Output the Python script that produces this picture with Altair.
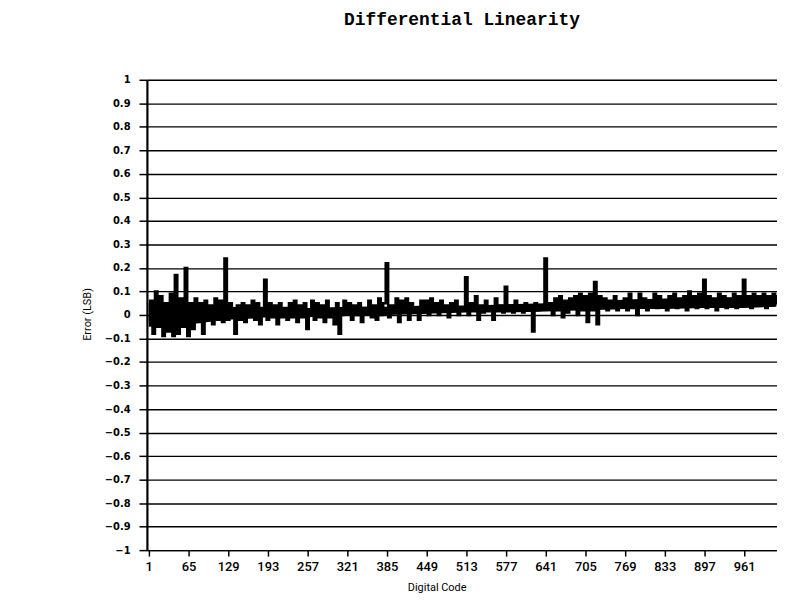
import altair as alt
import pandas as pd

title_text = "Differential Linearity"
x_title = "Digital Code"
y_title = "Error (LSB)"
x_ticks = [1, 65, 129, 193, 257, 321, 385, 449, 513, 577, 641, 705, 769, 833, 897, 961]
y_ticks = [round(-1 + 0.1 * k, 1) for k in range(21)]

# digital codes sampled every 4 codes (1, 5, 9, ... 1021)
codes = list(range(1, 1024, 4))
errors = [
    -0.02, 0.06, -0.08, 0.10, -0.05, 0.08, -0.09, 0.05, -0.07, 0.09, -0.09, 0.17, -0.08, 0.07, -0.05, 0.20,
    -0.09, 0.05, -0.06, 0.07, -0.03, 0.05, -0.08, 0.06, -0.02, 0.04, -0.04, 0.07, -0.02, 0.06, -0.03, 0.24,
    -0.02, 0.05, -0.01, -0.08, 0.04, -0.02, 0.05, -0.03, 0.04, -0.01, 0.06, -0.02, 0.05, -0.04, 0.03, 0.15,
    -0.02, 0.05, -0.01, 0.04, -0.04, 0.05, -0.01, 0.03, -0.02, 0.05, -0.01, 0.06, -0.03, 0.04, -0.01, 0.05,
    -0.06, 0.02, 0.06, -0.02, 0.05, -0.01, 0.04, -0.03, 0.06, -0.01, 0.02, -0.04, 0.05, -0.08, 0.00, 0.06,
    0.01, 0.05, -0.02, 0.04, 0.00, 0.05, -0.03, 0.03, 0.01, 0.06, -0.01, 0.04, -0.02, 0.07, 0.00, 0.05,
    0.22, -0.01, 0.04, 0.02, 0.07, -0.03, 0.06, 0.01, 0.07, -0.02, 0.05, 0.01, 0.03, -0.02, 0.06, 0.01,
    0.06, 0.00, 0.07, 0.02, 0.05, 0.00, 0.06, 0.02, 0.04, -0.01, 0.05, 0.02, 0.06, 0.00, 0.03, 0.02,
    0.16, 0.00, 0.05, 0.03, 0.08, -0.02, 0.04, 0.01, 0.06, 0.03, 0.03, -0.02, 0.07, 0.02, 0.04, 0.01,
    0.12, 0.02, 0.04, 0.01, 0.06, 0.02, 0.03, 0.01, 0.05, 0.02, 0.03, -0.07, 0.05, 0.02, 0.04, 0.03,
    0.24, 0.03, 0.05, 0.00, 0.07, 0.02, 0.08, -0.01, 0.06, 0.01, 0.07, 0.03, 0.08, 0.00, 0.09, 0.02,
    0.08, -0.03, 0.09, 0.02, 0.14, -0.04, 0.08, 0.03, 0.07, 0.02, 0.06, 0.03, 0.08, 0.02, 0.05, 0.04,
    0.07, 0.02, 0.09, 0.03, 0.06, 0.00, 0.09, 0.04, 0.07, 0.02, 0.06, 0.04, 0.09, 0.03, 0.08, 0.04,
    0.06, 0.02, 0.08, 0.04, 0.09, 0.03, 0.07, 0.04, 0.08, 0.02, 0.10, 0.04, 0.08, 0.03, 0.09, 0.04,
    0.15, 0.03, 0.08, 0.04, 0.07, 0.02, 0.09, 0.04, 0.08, 0.03, 0.07, 0.04, 0.09, 0.03, 0.08, 0.04,
    0.15, 0.04, 0.08, 0.03, 0.09, 0.05, 0.08, 0.04, 0.09, 0.03, 0.08, 0.04, 0.09, 0.05, 0.08, 0.05,
]

# dense core of the trace (read as an envelope off the picture)
band_codes = [1, 65, 129, 193, 257, 321, 385, 449, 513, 577, 641, 705, 769, 833, 897, 961, 1013]
band_low = [-0.05, -0.04, -0.02, -0.01, -0.01, 0.0, 0.0, 0.005, 0.01, 0.01, 0.015, 0.02, 0.025, 0.025, 0.03, 0.03, 0.035]
band_high = [0.05, 0.045, 0.035, 0.03, 0.03, 0.035, 0.035, 0.04, 0.04, 0.045, 0.05, 0.06, 0.065, 0.07, 0.07, 0.075, 0.075]

df = pd.DataFrame({"code": codes, "error": errors})
bdf = pd.DataFrame({"code": band_codes, "low": band_low, "high": band_high})

xscale = alt.Scale(domain=[-2, 1014], nice=False, zero=False)
yscale = alt.Scale(domain=[-1, 1], nice=False)

xaxis = alt.Axis(
    values=x_ticks, grid=False, title=x_title, tickSize=6, tickWidth=1.5,
    domainWidth=1.5, domainColor="black", tickColor="black",
    labelFont="Roboto", labelFontSize=13, labelColor="black", labelPadding=5,
    labelFontWeight=500,
    titleFont="Roboto", titleFontSize=11, titleFontWeight="normal", titleColor="black",
    titleX=292, titleY=32, labelFlush=False,
)
yaxis = alt.Axis(
    values=y_ticks, format=".1~f", grid=True, gridColor="black", gridWidth=1.4,
    gridOpacity=1, title=y_title, tickSize=8, tickWidth=1.5, tickColor="black",
    domainWidth=2.2, domainColor="black",
    labelFont="DejaVu Sans", labelFontSize=10, labelFontWeight="bold",
    labelColor="black", labelPadding=9,
    titleFont="Roboto", titleFontSize=11, titleFontWeight="normal", titleColor="black",
    titleX=-60, titleY=236, titleAngle=-90, titleBaseline="middle",
)

line = alt.Chart(df).mark_line(
    color="black", strokeWidth=2.5, clip=True, interpolate="step"
).encode(
    x=alt.X("code:Q", scale=xscale, axis=xaxis),
    y=alt.Y("error:Q", scale=yscale, axis=yaxis),
)

band = alt.Chart(bdf).mark_area(color="black", opacity=1, clip=True).encode(
    x=alt.X("code:Q", scale=xscale, axis=xaxis),
    y=alt.Y("low:Q", scale=yscale, axis=yaxis),
    y2="high:Q",
)

chart = alt.layer(line, band).properties(
    width=635,
    height=474,
    title=alt.TitleParams(
        title_text, font="Liberation Mono", fontSize=18, fontWeight="bold",
        color="black", anchor="middle", offset=46,
    ),
    padding={"left": 140, "top": 70, "right": 0, "bottom": 60},
    autosize=alt.AutoSizeParams(type="none"),
).configure_view(strokeOpacity=0).configure(background="white")

chart.save("out.html", embed_options={"renderer": "svg", "actions": False})
